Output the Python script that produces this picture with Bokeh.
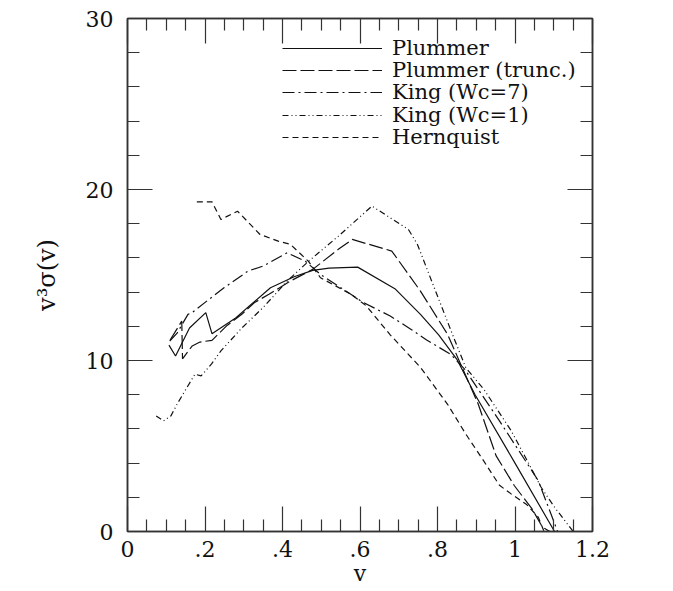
from bokeh.plotting import figure
from bokeh.models import LinearAxis, Range1d, FixedTicker, Legend, LegendItem
from bokeh.embed import file_html
from bokeh.resources import INLINE

# ---- data ----
plummer_v = [0.107, 0.124, 0.16, 0.202, 0.218, 0.28, 0.319, 0.369, 0.43, 0.478, 0.52, 0.594, 0.69, 0.756, 0.803, 0.85, 0.897, 1.0, 1.102]
plummer_y = [10.9, 10.26, 11.9, 12.8, 11.57, 12.5, 13.28, 14.25, 14.9, 15.27, 15.4, 15.46, 14.2, 12.7, 11.5, 10.07, 8.0, 4.0, 0.0]

trunc_v = [0.11, 0.14, 0.142, 0.167, 0.187, 0.218, 0.257, 0.295, 0.327, 0.365, 0.42, 0.478, 0.544, 0.58, 0.682, 0.756, 0.826, 0.905, 0.951, 0.998, 1.044, 1.071, 1.09]
trunc_y = [11.2, 12.3, 10.1, 10.85, 11.08, 11.18, 12.05, 12.7, 13.38, 13.87, 14.64, 15.33, 16.5, 17.08, 16.4, 14.06, 11.53, 7.46, 4.44, 2.69, 1.32, 0.25, 0.0]

king7_v = [0.109, 0.128, 0.156, 0.167, 0.21, 0.249, 0.311, 0.35, 0.412, 0.459, 0.5, 0.608, 0.678, 0.733, 0.772, 0.834, 0.87, 0.959, 1.021, 1.06, 1.11]
king7_y = [11.14, 11.6, 12.7, 12.8, 13.57, 14.25, 15.23, 15.52, 16.3, 15.8, 15.0, 13.4, 12.6, 11.8, 11.2, 10.36, 9.5, 6.5, 4.34, 2.98, 0.0]

king1_v = [0.074, 0.093, 0.112, 0.128, 0.151, 0.174, 0.19, 0.217, 0.241, 0.295, 0.35, 0.412, 0.467, 0.544, 0.631, 0.725, 0.748, 0.795, 0.842, 0.873, 0.92, 0.99, 1.036, 1.067, 1.102, 1.15]
king1_y = [6.76, 6.47, 6.76, 7.45, 8.33, 9.2, 9.1, 9.8, 10.56, 11.9, 13.1, 14.64, 15.8, 17.27, 19.03, 17.66, 16.8, 14.06, 11.33, 9.58, 8.3, 5.9, 3.95, 2.6, 1.42, 0.0]

hern_v = [0.179, 0.218, 0.241, 0.284, 0.342, 0.389, 0.42, 0.467, 0.498, 0.53, 0.577, 0.616, 0.678, 0.756, 0.826, 0.873, 0.92, 0.96, 0.99, 1.029, 1.06, 1.075]
hern_y = [19.28, 19.28, 18.25, 18.73, 17.37, 16.98, 16.8, 15.8, 14.84, 14.45, 13.87, 13.2, 11.5, 9.6, 7.44, 5.7, 4.1, 2.7, 2.2, 1.6, 0.84, 0.0]

labels = ["Plummer", "Plummer (trunc.)", "King (Wc=7)", "King (Wc=1)", "Hernquist"]

x_ticks = [0, 0.2, 0.4, 0.6, 0.8, 1.0, 1.2]
x_tick_labels = ["0", ".2", ".4", ".6", ".8", "1", "1.2"]
x_minor = [0.05, 0.1, 0.15, 0.25, 0.3, 0.35, 0.45, 0.5, 0.55, 0.65, 0.7, 0.75, 0.85, 0.9, 0.95, 1.05, 1.1, 1.15]
y_ticks = [0, 10, 20, 30]
y_minor = [2, 4, 6, 8, 12, 14, 16, 18, 22, 24, 26, 28]

FONT = "DejaVu Serif"
INK = "#111111"
AX = "#333333"

p = figure(width=673, height=591, x_range=Range1d(0, 1.2), y_range=Range1d(0, 30),
           output_backend="svg", toolbar_location=None,
           min_border_left=127, min_border_right=81, min_border_top=18, min_border_bottom=60,
           x_axis_location=None, y_axis_location=None)
p.grid.visible = False
p.outline_line_color = AX
p.outline_line_width = 1.5
p.background_fill_color = "white"
p.border_fill_color = "white"


def make_axis(kind, ticks, minor, show, overrides=None, label=None):
    ax = LinearAxis(ticker=FixedTicker(ticks=ticks, minor_ticks=minor))
    ax.axis_line_color = AX
    ax.axis_line_width = 1.5
    ax.major_tick_line_color = AX
    ax.minor_tick_line_color = AX
    ax.major_tick_line_width = 1.2
    ax.minor_tick_line_width = 1.2
    ax.major_tick_out = 0
    ax.minor_tick_out = 0
    ax.major_tick_in = 25
    ax.minor_tick_in = 12
    if show:
        ax.major_label_text_font = FONT
        ax.major_label_text_font_size = "22px"
        ax.major_label_text_color = INK
        ax.major_label_standoff = 9 if kind == "x" else 14
        if overrides:
            ax.major_label_overrides = overrides
        if label:
            ax.axis_label = label
            ax.axis_label_text_font = FONT
            ax.axis_label_text_font_size = "22px" if kind == "x" else "24px"
            ax.axis_label_text_font_style = "normal"
            ax.axis_label_text_color = INK
            ax.axis_label_standoff = 1 if kind == "x" else 22
    else:
        ax.major_label_text_font_size = "0px"
        ax.major_label_text_color = None
        ax.major_label_standoff = 0
    return ax


xo = {t: s for t, s in zip(x_ticks, x_tick_labels)}
p.add_layout(make_axis("x", x_ticks, x_minor, True, xo, "v"), "below")
p.add_layout(make_axis("x", x_ticks, x_minor, False), "above")
p.add_layout(make_axis("y", y_ticks, y_minor, True, None, "v³σ(v)"), "left")
p.add_layout(make_axis("y", y_ticks, y_minor, False), "right")

r1 = p.line(plummer_v, plummer_y, line_color=INK, line_width=1.2)
r2 = p.line(trunc_v, trunc_y, line_color=INK, line_width=1.2, line_dash="14 4")
r3 = p.line(king7_v, king7_y, line_color=INK, line_width=1.2, line_dash="12 4 2 4")
r4 = p.line(king1_v, king1_y, line_color=INK, line_width=1.2, line_dash="6 3 1 3 1 3")
r5 = p.line(hern_v, hern_y, line_color=INK, line_width=1.2, line_dash="6 4")

# one single-row legend per entry, so the row pitch can follow the reference
row_bottoms = [471, 449, 427, 404, 382]
for lab, r, yb in zip(labels, [r1, r2, r3, r4, r5], row_bottoms):
    lg = Legend(items=[LegendItem(label=lab, renderers=[r])],
                location=(155, yb), glyph_width=100, glyph_height=20, label_height=20,
                label_standoff=10, spacing=0, padding=0, margin=0,
                background_fill_alpha=0, border_line_alpha=0,
                label_text_font=FONT, label_text_font_size="21px",
                label_text_color=INK)
    p.add_layout(lg)

open("out.html", "w").write(file_html(p, INLINE))
